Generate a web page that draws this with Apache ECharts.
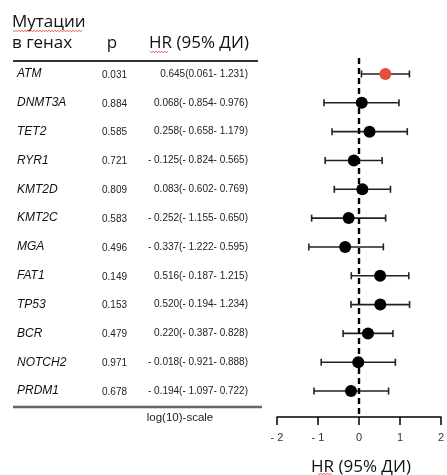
<!DOCTYPE html>
<html>
<head>
<meta charset="utf-8">
<script src="https://cdn.jsdelivr.net/npm/echarts@6/dist/echarts.min.js"></script>
<style>
  html, body { margin: 0; padding: 0; background: #fff; }
  #chart { width: 447px; height: 475px; }
</style>
</head>
<body>
<div id="chart"></div>
<script>
// Forest plot: hazard ratios (log10 scale) with 95% CI per mutated gene
const genes = ['ATM', 'DNMT3A', 'TET2', 'RYR1', 'KMT2D', 'KMT2C', 'MGA', 'FAT1', 'TP53', 'BCR', 'NOTCH2', 'PRDM1'];
const pValues = ['0.031', '0.884', '0.585', '0.721', '0.809', '0.583', '0.496', '0.149', '0.153', '0.479', '0.971', '0.678'];
const hr = [0.645, 0.068, 0.258, -0.125, 0.083, -0.252, -0.337, 0.516, 0.520, 0.220, -0.018, -0.194];
const ciLow = [0.061, -0.854, -0.658, -0.824, -0.602, -1.155, -1.222, -0.187, -0.194, -0.387, -0.921, -1.097];
const ciHigh = [1.231, 0.976, 1.179, 0.565, 0.769, 0.650, 0.595, 1.215, 1.234, 0.828, 0.888, 0.722];
const xTicks = [-2, -1, 0, 1, 2];
const significant = ['ATM'];

const headerGene = ['Мутации', 'в генах'];
const headerP = 'p';
const headerHR = 'HR (95% ДИ)';
const scaleNote = 'log(10)-scale';
const axisTitle = 'HR (95% ДИ)';

const chart = echarts.init(document.getElementById('chart'), null, { renderer: 'canvas' });

const fmt = v => (v < 0 ? '- ' + Math.abs(v).toFixed(3) : v.toFixed(3));
const hrText = genes.map((g, i) => `${fmt(hr[i])}(${fmt(ciLow[i])}- ${fmt(ciHigh[i])})`);

const SANS = '"Liberation Sans", Arial, sans-serif';
const HEAD = '"Open Sans", "Noto Sans", sans-serif';

chart.setOption({
  animation: false,
  backgroundColor: '#fff',
  grid: { left: 277, right: 1, top: 58, bottom: 58 },
  xAxis: {
    type: 'value',
    position: 'bottom',
    min: xTicks[0],
    max: xTicks[xTicks.length - 1],
    interval: 1,
    splitLine: { show: false },
    axisLine: { show: true, onZero: false, lineStyle: { color: '#000', width: 1.5 } },
    axisTick: { show: true, length: 8, lineStyle: { color: '#000', width: 1.5 } },
    axisLabel: {
      margin: 15,
      fontSize: 11,
      color: '#333',
      fontFamily: SANS,
      showMaxLabel: true,
      showMinLabel: true,
      formatter: v => (v < 0 ? '- ' + Math.abs(v) : String(v))
    }
  },
  yAxis: {
    type: 'value',
    inverse: true,
    min: -0.555,
    max: 11.9,
    show: false,
    axisLine: { onZero: false }
  },
  series: [
    {
      type: 'custom',
      name: 'ci',
      silent: true,
      data: genes.map((g, i) => [ciLow[i], ciHigh[i], i]),
      encode: { x: [0, 1], y: 2 },
      renderItem: (params, api) => {
        const a = api.coord([api.value(0), api.value(2)]);
        const b = api.coord([api.value(1), api.value(2)]);
        const h = 3.5;
        const st = { stroke: '#222', lineWidth: 1.6 };
        return {
          type: 'group',
          children: [
            { type: 'line', shape: { x1: a[0], y1: a[1], x2: b[0], y2: b[1] }, style: st },
            { type: 'line', shape: { x1: a[0], y1: a[1] - h, x2: a[0], y2: a[1] + h }, style: st },
            { type: 'line', shape: { x1: b[0], y1: b[1] - h, x2: b[0], y2: b[1] + h }, style: st }
          ]
        };
      }
    },
    {
      type: 'scatter',
      name: 'hr',
      symbol: 'circle',
      symbolSize: 12,
      z: 5,
      data: genes.map((g, i) => ({
        value: [hr[i], i],
        itemStyle: { color: significant.includes(g) ? '#E5503B' : '#000', opacity: 1 }
      })),
      markLine: {
        silent: true,
        symbol: 'none',
        label: { show: false },
        lineStyle: { color: '#000', width: 2.4, type: [6, 4] },
        data: [{ xAxis: 0 }]
      }
    }
  ]
});

// Zigzag line used for the spell-check style underline
function wavy(x0, x1, y) {
  const pts = [];
  let up = true;
  for (let x = x0; x <= x1; x += 1.5) {
    pts.push([x, up ? y - 0.8 : y + 0.8]);
    up = !up;
  }
  return { type: 'polyline', shape: { points: pts }, style: { stroke: '#E03030', lineWidth: 0.8, fill: null } };
}

// Table columns aligned with the plotted rows
const rowY = genes.map((g, i) => chart.convertToPixel({ seriesIndex: 1 }, [0, i])[1]);
const elements = [];
const headStyle = (text, x, y, align) => ({
  type: 'text', x, y,
  style: { text, font: `17px ${HEAD}`, fill: '#111', textAlign: align || 'left', textVerticalAlign: 'middle' }
});
elements.push(headStyle(headerGene[0], 12, 22));
elements.push(headStyle(headerGene[1], 12, 43));
elements.push(headStyle(headerP, 112, 43, 'center'));
elements.push(headStyle(headerHR, 149, 43));
elements.push(wavy(13, 82, 31));
elements.push(wavy(150, 168, 52));
elements.push({ type: 'line', shape: { x1: 13, y1: 61, x2: 258, y2: 61 }, style: { stroke: '#333', lineWidth: 2 } });

genes.forEach((g, i) => {
  const y = rowY[i];
  elements.push({ type: 'text', x: 17, y, style: { text: g, font: `italic 12px ${SANS}`, fill: '#111', textAlign: 'left', textVerticalAlign: 'middle' } });
  elements.push({ type: 'text', x: 102, y: y + 1, style: { text: pValues[i], font: `10px ${SANS}`, fill: '#222', textAlign: 'left', textVerticalAlign: 'middle' } });
  elements.push({ type: 'text', x: 248, y, style: { text: hrText[i], font: `10px ${SANS}`, fill: '#222', textAlign: 'right', textVerticalAlign: 'middle' } });
});

elements.push({ type: 'line', shape: { x1: 13, y1: 407, x2: 262, y2: 407 }, style: { stroke: '#666', lineWidth: 2.5 } });
elements.push({ type: 'text', x: 180, y: 418, style: { text: scaleNote, font: `11.5px ${SANS}`, fill: '#222', textAlign: 'center', textVerticalAlign: 'middle' } });

const x0 = chart.convertToPixel({ xAxisIndex: 0 }, 0);
elements.push({ type: 'text', x: x0 + 2, y: 467, style: { text: axisTitle, font: `17px ${HEAD}`, fill: '#111', textAlign: 'center', textVerticalAlign: 'middle' } });
elements.push(wavy(318, 332, 474));

chart.setOption({ graphic: { elements } });
</script>
</body>
</html>
